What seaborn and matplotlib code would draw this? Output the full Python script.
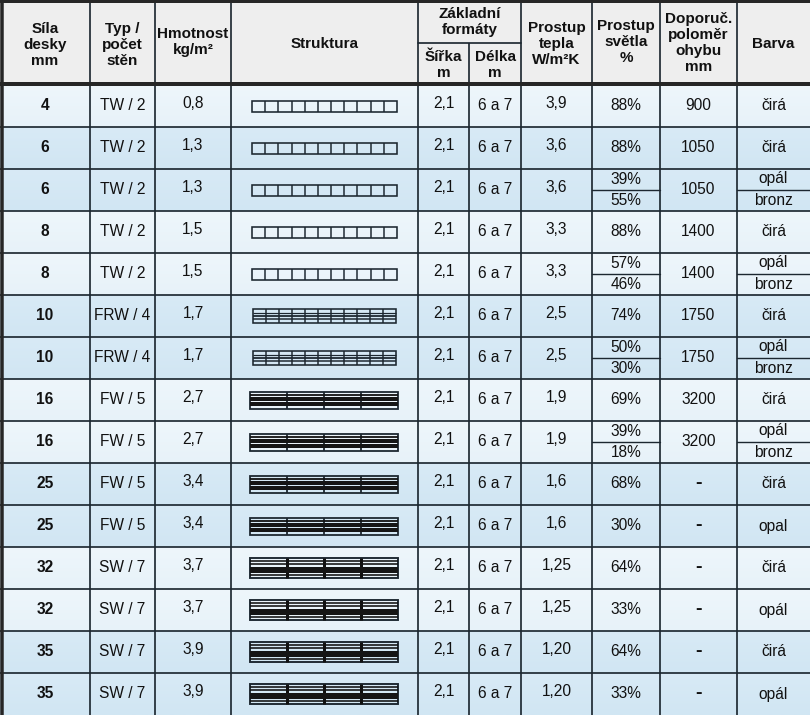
import numpy as np
import matplotlib
matplotlib.use("Agg")
import matplotlib.pyplot as plt
from matplotlib.patches import Rectangle
import seaborn as sns

sns.set_theme(style="white")
plt.rcParams['font.family'] = ['Liberation Sans', 'DejaVu Sans']

# ---------------- data ----------------
thickness = ["4", "6", "6", "8", "8", "10", "10", "16", "16", "25", "25", "32", "32", "35", "35"]
wall_type = ["TW / 2", "TW / 2", "TW / 2", "TW / 2", "TW / 2", "FRW / 4", "FRW / 4",
             "FW / 5", "FW / 5", "FW / 5", "FW / 5", "SW / 7", "SW / 7", "SW / 7", "SW / 7"]
weight = ["0,8", "1,3", "1,3", "1,5", "1,5", "1,7", "1,7", "2,7", "2,7", "3,4", "3,4",
          "3,7", "3,7", "3,9", "3,9"]
width_m = ["2,1"] * 15
length_m = ["6 a 7"] * 15
heat = ["3,9", "3,6", "3,6", "3,3", "3,3", "2,5", "2,5", "1,9", "1,9", "1,6", "1,6",
        "1,25", "1,25", "1,20", "1,20"]
light = [["88%"], ["88%"], ["39%", "55%"], ["88%"], ["57%", "46%"], ["74%"], ["50%", "30%"],
         ["69%"], ["39%", "18%"], ["68%"], ["30%"], ["64%"], ["33%"], ["64%"], ["33%"]]
radius = ["900", "1050", "1050", "1400", "1400", "1750", "1750", "3200", "3200",
          "-", "-", "-", "-", "-", "-"]
colour = [["čirá"], ["čirá"], ["opál", "bronz"], ["čirá"], ["opál", "bronz"], ["čirá"],
          ["opál", "bronz"], ["čirá"], ["opál", "bronz"], ["čirá"], ["opal"], ["čirá"],
          ["opál"], ["čirá"], ["opál"]]
shade = [0, 1, 1, 0, 0, 1, 1, 0, 0, 1, 1, 0, 0, 1, 1]

headers = ["Síla\ndesky\nmm", "Typ /\npočet\nstěn", "Hmotnost\nkg/m²", "Struktura",
           "Šířka\nm", "Délka\nm", "Prostup\ntepla\nW/m²K", "Prostup\nsvětla\n%",
           "Doporuč.\npoloměr\nohybu\nmm", "Barva"]
group_header = "Základní\nformáty"

# ---------------- layout ----------------
W, H = 810, 715
col_edges = [0, 90, 155, 231, 418, 469, 521, 592, 660, 737, 810]
header_h = 85
row_h = 42.0
ink = "#1c2730"
PX = 0.72  # points per pixel at dpi 100

fig = plt.figure(figsize=(W / 100, H / 100), dpi=100)
ax = fig.add_axes([0, 0, 1, 1])
ax.axis("off")

bg_light = ["#eef6fb", "#e7f2f9"]
bg_dark = ["#d8eaf6", "#d1e6f3"]

# header background
ax.add_patch(Rectangle((0, 0), W, header_h, facecolor="#eeeeee", edgecolor="none", zorder=0))

# row backgrounds with a soft vertical gradient
n = len(thickness)
for i in range(n):
    top = header_h + i * row_h
    c0, c1 = (bg_dark if shade[i] else bg_light)
    rgb0 = np.array(matplotlib.colors.to_rgb(c0))
    rgb1 = np.array(matplotlib.colors.to_rgb(c1))
    t = np.linspace(0, 1, 32)[:, None]
    grad = (rgb0 * (1 - t) + rgb1 * t)[:, None, :]
    ax.imshow(grad, extent=(0, W, top + row_h, top), aspect="auto", zorder=0.5,
              interpolation="bilinear")
ax.set_xlim(0, W)
ax.set_ylim(H, 0)

# grid lines
bottom = header_h + n * row_h
for x in col_edges[1:-1]:
    y0 = 43 if x == 469 else 0
    ax.plot([x, x], [y0, bottom], color=ink, lw=1.7 * PX, zorder=3, solid_capstyle="butt")
ax.plot([418, 521], [43, 43], color=ink, lw=1.7 * PX, zorder=3)
for i in range(1, n):
    y = header_h + i * row_h
    ax.plot([0, W], [y, y], color=ink, lw=1.7 * PX, zorder=3)
ax.plot([0, W], [header_h - 1.5, header_h - 1.5], color="#262626", lw=4 * PX, zorder=4)
ax.plot([1.5, 1.5], [0, H], color="#262626", lw=3.5 * PX, zorder=4)
ax.plot([0, W], [1, 1], color="#262626", lw=3 * PX, zorder=4)

# header text
hfs = 11.0
hx = [(col_edges[k] + col_edges[k + 1]) / 2 for k in range(10)]
hy = [45, 45, 42, 44, 65, 65, 44, 42, 43, 44]
for k, txt in enumerate(headers):
    ax.text(hx[k], hy[k], txt, ha="center", va="center", fontsize=hfs,
            fontweight="bold", color="#111111", linespacing=1.2, zorder=5)
ax.text((418 + 521) / 2, 22, group_header, ha="center", va="center", fontsize=hfs,
        fontweight="bold", color="#111111", linespacing=1.15, zorder=5)


def hline(x0, x1, y, px, color="#111111"):
    ax.plot([x0, x1], [y, y], color=color, lw=px * PX, zorder=4, solid_capstyle="butt")


def vline(x, y0, y1, px, color=ink):
    ax.plot([x, x], [y0, y1], color=color, lw=px * PX, zorder=4, solid_capstyle="butt")


def band(x0, x1, ya, yb):
    ax.add_patch(Rectangle((x0, ya), x1 - x0, yb - ya, facecolor="#151515",
                           edgecolor="none", zorder=4))


def draw_structure(kind, cy):
    if kind.startswith("TW"):
        x0, x1, h = 252, 397, 11
        y0 = cy - h / 2
        ax.add_patch(Rectangle((x0, y0), x1 - x0, h, fill=False, edgecolor=ink,
                               lw=1.6 * PX, zorder=4))
        for xv in np.linspace(x0, x1, 12)[1:-1]:
            vline(xv, y0, y0 + h, 1.5)
    elif kind.startswith("FRW"):
        x0, x1, h = 253, 396, 14
        y0 = cy - h / 2
        ax.add_patch(Rectangle((x0, y0), x1 - x0, h, fill=False, edgecolor=ink,
                               lw=1.6 * PX, zorder=4))
        for xv in np.linspace(x0, x1, 12)[1:-1]:
            vline(xv, y0, y0 + h, 1.5)
        for f, px in ((0.25, 1.2), (0.5, 1.8), (0.73, 1.5)):
            hline(x0, x1, y0 + f * h, px, ink)
    elif kind.startswith("FW"):
        x0, x1, h = 250, 398, 17
        y0 = cy - h / 2
        ax.add_patch(Rectangle((x0, y0), x1 - x0, h, fill=False, edgecolor=ink,
                               lw=1.8 * PX, zorder=4))
        for xv in np.linspace(x0, x1, 5)[1:-1]:
            vline(xv, y0, y0 + h, 1.8)
        hline(x0, x1, y0 + 0.19 * h, 1.8)
        band(x0, x1, y0 + 0.33 * h, y0 + 0.54 * h)
        band(x0, x1, y0 + 0.63 * h, y0 + 0.85 * h)
    else:
        x0, x1, h = 250, 398, 20
        y0 = cy - h / 2
        ax.add_patch(Rectangle((x0, y0), x1 - x0, h, fill=False, edgecolor=ink,
                               lw=1.9 * PX, zorder=4))
        for xv in np.linspace(x0, x1, 5)[1:-1]:
            vline(xv, y0, y0 + h, 3.0, "#111111")
        for f in (0.17, 0.31, 0.87):
            hline(x0, x1, y0 + f * h, 1.6)
        band(x0, x1, y0 + 0.45 * h, y0 + 0.76 * h)


fs = 11.2
tc = "#111111"
for i in range(n):
    top = header_h + i * row_h
    cy = top + row_h / 2
    ax.text(hx[0], cy, thickness[i], ha="center", va="center", fontsize=fs,
            fontweight="bold", color=tc, zorder=5)
    ax.text(hx[1], cy, wall_type[i], ha="center", va="center", fontsize=fs, color=tc, zorder=5)
    ax.text(hx[2], cy - 2, weight[i], ha="center", va="center", fontsize=fs, color=tc, zorder=5)
    draw_structure(wall_type[i], cy)
    ax.text(hx[4], cy - 2, width_m[i], ha="center", va="center", fontsize=fs, color=tc, zorder=5)
    ax.text(hx[5], cy, length_m[i], ha="center", va="center", fontsize=fs, color=tc, zorder=5)
    ax.text(hx[6], cy - 2, heat[i], ha="center", va="center", fontsize=fs, color=tc, zorder=5)
    if radius[i] == "-":
        ax.text(hx[8], cy - 1, "-", ha="center", va="center", fontsize=fs + 3,
                fontweight="bold", color=tc, zorder=5)
    else:
        ax.text(hx[8], cy, radius[i], ha="center", va="center", fontsize=fs, color=tc, zorder=5)
    for k, vals in ((7, light[i]), (9, colour[i])):
        if len(vals) == 1:
            ax.text(hx[k], cy, vals[0], ha="center", va="center", fontsize=fs,
                    color=tc, zorder=5)
        else:
            ax.plot([col_edges[k], col_edges[k + 1]], [cy, cy],
                    color=ink, lw=1.4 * PX, zorder=3)
            ax.text(hx[k], top + 10, vals[0], ha="center", va="center", fontsize=fs,
                    color=tc, zorder=5)
            ax.text(hx[k], top + 31.5, vals[1], ha="center", va="center", fontsize=fs,
                    color=tc, zorder=5)

fig.savefig("out.png", dpi=100)
